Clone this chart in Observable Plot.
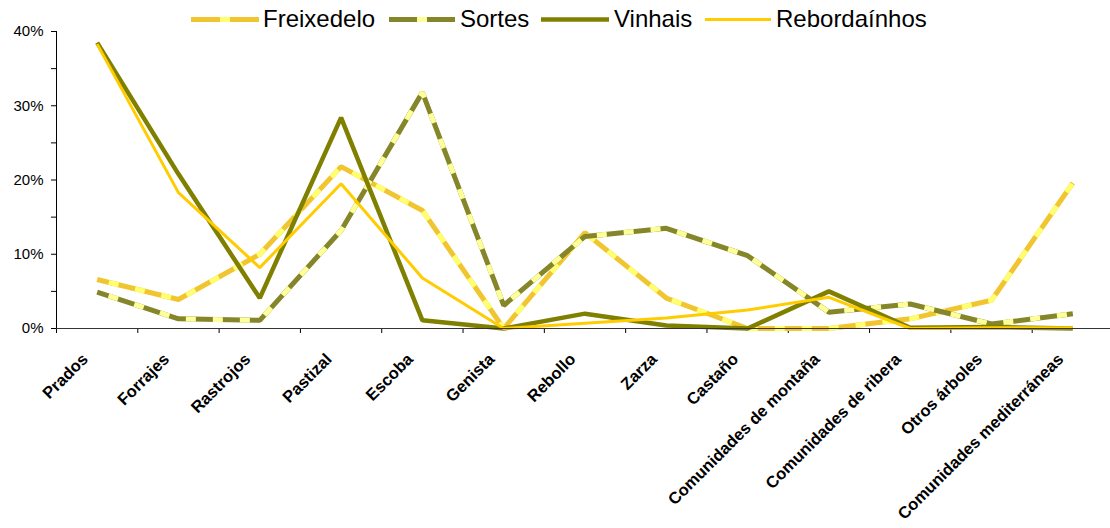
<!DOCTYPE html>
<html>
<head>
<meta charset="utf-8">
<script src="https://cdn.jsdelivr.net/npm/d3@7"></script>
<script src="https://cdn.jsdelivr.net/npm/@observablehq/plot@0.6"></script>
<style>
  html, body { margin: 0; padding: 0; background: #fff; }
  #wrap { position: relative; width: 1110px; height: 528px; overflow: hidden; font-family: "Liberation Sans", Arial, sans-serif; }
  #legend { position: absolute; left: 0; top: 0; }
</style>
</head>
<body>
<div id="wrap"></div>
<script>
// ---- data (percent) ----
const categories = ["Prados", "Forrajes", "Rastrojos", "Pastizal", "Escoba", "Genista", "Rebollo", "Zarza", "Castaño", "Comunidades de montaña", "Comunidades de ribera", "Otros árboles", "Comunidades mediterráneas"];
const freixedelo   = [6.6, 3.9, 10.0, 21.8, 15.9, 0.0, 12.9, 4.1, 0.0, 0.0, 1.3, 3.8, 19.6];
const sortes       = [4.9, 1.3, 1.1, 13.2, 31.8, 3.1, 12.4, 13.5, 9.8, 2.2, 3.3, 0.6, 2.0];
const vinhais      = [38.5, 20.8, 4.1, 28.4, 1.1, 0.0, 2.0, 0.4, 0.0, 5.0, 0.1, 0.2, 0.0];
const rebordainhos = [38.3, 18.3, 8.2, 19.5, 6.8, 0.0, 0.7, 1.4, 2.5, 4.2, 0.0, 0.1, 0.1];
const yTicks = [0, 5, 10, 15, 20, 25, 30, 35, 40];
const seriesNames = ["Freixedelo", "Sortes", "Vinhais", "Rebordaínhos"];

const idx = categories.map((_, i) => i);
const boundaries = d3.range(-0.5, categories.length, 1);

const styles = {
  Freixedelo:   {base: "#F0C530", over: "#FFFF70", width: 5, dash: "10 17"},
  Sortes:       {base: "#85852A", over: "#FFFF99", width: 5, dash: "10 17"},
  Vinhais:      {base: "#808000", width: 4.5},
  "Rebordaínhos": {base: "#FFCC00", width: 3}
};
const seriesData = {Freixedelo: freixedelo, Sortes: sortes, Vinhais: vinhais, "Rebordaínhos": rebordainhos};

function lineMarks(name) {
  const s = styles[name];
  const vals = seriesData[name];
  const marks = [Plot.line(vals, {x: (d, i) => i, y: d => d, stroke: s.base, strokeWidth: s.width, strokeLinejoin: "miter", strokeLinecap: "butt"})];
  if (s.over) {
    marks.push(Plot.line(vals, {x: (d, i) => i, y: d => d, stroke: s.over, strokeWidth: s.width, strokeDasharray: s.dash, strokeDashoffset: -12, strokeLinejoin: "miter", strokeLinecap: "butt"}));
  }
  return marks;
}

const chart = Plot.plot({
  width: 1110,
  height: 528,
  marginLeft: 56,
  marginRight: -3,
  marginTop: 31,
  marginBottom: 200,
  style: {fontFamily: "Liberation Sans, Arial, sans-serif", background: "white", color: "black"},
  x: {type: "linear", domain: [-0.5, categories.length - 0.5]},
  y: {domain: [0, 40]},
  marks: [
    Plot.axisY({ticks: yTicks, tickSize: 5, tickPadding: 8, fontSize: 15, label: null,
      tickFormat: d => (d % 10 === 0 ? d + "%" : "")}),
    Plot.ruleX([-0.5], {stroke: "black", strokeWidth: 1}),
    Plot.axisX({ticks: boundaries, tickSize: 5, tickFormat: () => "", label: null}),
    Plot.axisX({ticks: idx, tickSize: 0, tickPadding: 28, tickRotate: -45, dx: -12,
      fontSize: 16.5, fontWeight: "bold", label: null, tickFormat: i => categories[i]}),
    ...seriesNames.flatMap(lineMarks),
    Plot.ruleY([0], {stroke: "#333", strokeWidth: 1})
  ]
});

const wrap = document.getElementById("wrap");
wrap.appendChild(chart);

// ---- legend (overlay in top margin) ----
const legendPos = [
  {name: "Freixedelo", x0: 191, x1: 259, tx: 263},
  {name: "Sortes", x0: 389, x1: 455, tx: 460},
  {name: "Vinhais", x0: 541, x1: 609, tx: 614},
  {name: "Rebordaínhos", x0: 705, x1: 771, tx: 776}
];
const lg = d3.create("svg").attr("id", "legend").attr("width", 1110).attr("height", 40);
legendPos.forEach(p => {
  const s = styles[p.name];
  lg.append("line").attr("x1", p.x0).attr("x2", p.x1).attr("y1", 19.5).attr("y2", 19.5)
    .attr("stroke", s.base).attr("stroke-width", s.width);
  if (s.over) {
    const mid = (p.x0 + p.x1) / 2;
    lg.append("line").attr("x1", mid - 5).attr("x2", mid + 5).attr("y1", 19.5).attr("y2", 19.5)
      .attr("stroke", s.over).attr("stroke-width", s.width);
  }
  lg.append("text").attr("x", p.tx).attr("y", 27).attr("font-size", 24)
    .attr("font-family", "Liberation Sans, Arial, sans-serif").attr("fill", "black").text(p.name);
});
wrap.appendChild(lg.node());
</script>
</body>
</html>
